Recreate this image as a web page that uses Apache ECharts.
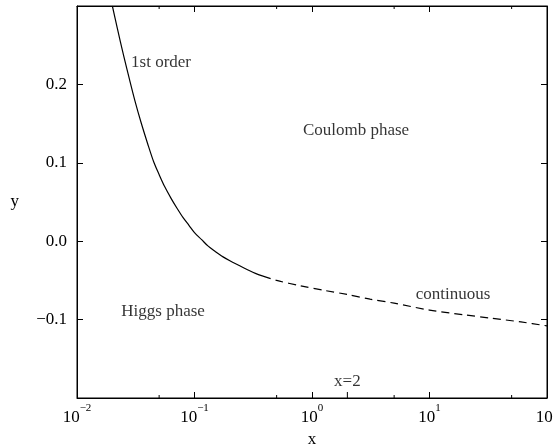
<!DOCTYPE html>
<html>
<head>
<meta charset="utf-8">
<script src="https://cdn.jsdelivr.net/npm/echarts@6/dist/echarts.min.js"></script>
<style>
  html, body { margin: 0; padding: 0; background: #fff; }
  #chart { width: 553px; height: 446px; }
</style>
</head>
<body>
<div id="chart"></div>
<script>
// first order line (solid)
const solidX = [0.020, 0.022, 0.025, 0.028, 0.031, 0.035, 0.040, 0.045, 0.050, 0.056, 0.063, 0.071,
                0.080, 0.090, 0.100, 0.115, 0.130, 0.150, 0.175, 0.200, 0.240, 0.280, 0.330, 0.383];
const solidY = [0.300, 0.272, 0.236, 0.206, 0.180, 0.152, 0.124, 0.101, 0.085, 0.069, 0.055, 0.042,
                0.030, 0.020, 0.011, 0.002, -0.006, -0.013, -0.020, -0.025, -0.031, -0.036, -0.041, -0.0446];
// continuous line (dashed)
const dashX = [0.383, 0.5, 0.8, 1.3, 2, 3.12, 5, 10, 20, 32.7, 60, 100];
const dashY = [-0.0446, -0.050, -0.057, -0.063, -0.068, -0.0739, -0.079, -0.0879, -0.094, -0.098, -0.103, -0.108];

const minorTickX = [0.05, 0.5, 5, 50];
const extraTickX = [2];

// annotations [x, y, text]
const notes = [
  [0.0519, 0.228, '1st order'],
  [2.37, 0.1414, 'Coulomb phase'],
  [0.054, -0.0892, 'Higgs phase'],
  [15.85, -0.0675, 'continuous'],
  [2, -0.179, 'x=2']
];

const FONT = 'Liberation Serif';
const FS = 17;
const Y_MIN = -0.2, Y_MAX = 0.3;

function zip(a, b) { return a.map((v, i) => [v, b[i]]); }

const chart = echarts.init(document.getElementById('chart'), null, { renderer: 'canvas' });

const baseX = {
  type: 'log', logBase: 10, min: 0.01, max: 100,
  axisLine: { onZero: false, lineStyle: { color: '#000', width: 1 } },
  axisTick: { inside: true, length: 6, lineStyle: { color: '#000' } },
  splitLine: { show: false },
  minorTick: { show: false }
};
const baseY = {
  type: 'value', min: Y_MIN, max: Y_MAX, interval: 0.1,
  axisLine: { show: true, onZero: false, lineStyle: { color: '#000', width: 1 } },
  axisTick: { show: true, inside: true, length: 6, lineStyle: { color: '#000' } },
  splitLine: { show: false }
};

chart.setOption({
  backgroundColor: '#fff',
  animation: false,
  grid: {
    left: 77, right: 6, top: 6, bottom: 48, containLabel: false, outerBoundsMode: 'none',
    show: true, borderColor: '#000', borderWidth: 1, backgroundColor: 'transparent'
  },
  xAxis: [
    Object.assign({}, baseX, {
      position: 'bottom',
      name: 'x', nameLocation: 'middle', nameGap: 29,
      nameTextStyle: { fontFamily: FONT, fontSize: FS, color: '#000' },
      axisLabel: {
        margin: 5,
        formatter: function (v) {
          const e = Math.round(Math.log10(v));
          return '{b|10}{s|' + (e < 0 ? '\u2212' + (-e) : e) + '}';
        },
        rich: {
          b: { fontFamily: FONT, fontSize: FS, color: '#000', padding: [6, 0, 0, 0] },
          s: { fontFamily: FONT, fontSize: 11, color: '#000', verticalAlign: 'top' }
        }
      }
    }),
    Object.assign({}, baseX, { position: 'top', axisLabel: { show: false } })
  ],
  yAxis: [
    Object.assign({}, baseY, {
      position: 'left',
      name: 'y', nameLocation: 'middle', nameRotate: 0, nameGap: 58,
      nameTextStyle: { fontFamily: FONT, fontSize: FS, color: '#000' },
      axisLabel: {
        margin: 10, fontFamily: FONT, fontSize: FS, color: '#000',
        formatter: function (v) {
          if (v < -0.15 || v > 0.25) return '';
          return (v < -1e-9 ? '\u2212' : '') + Math.abs(v).toFixed(1);
        }
      }
    }),
    Object.assign({}, baseY, { position: 'right', axisLabel: { show: false } })
  ],
  series: [
    {
      type: 'line', data: zip(solidX, solidY), smooth: 0.3, showSymbol: false,
      lineStyle: { color: '#000', width: 1.2 }
    },
    {
      type: 'line', data: zip(dashX, dashY), smooth: 0.3, showSymbol: false,
      lineStyle: { color: '#000', width: 1.2, type: [8, 5] }
    },
    {
      type: 'custom',
      data: minorTickX.map(v => [v, 0]).concat(extraTickX.map(v => [v, 1])),
      renderItem: function (params, api) {
        const x = api.value(0);
        const extra = api.value(1) === 1;
        const b = api.coord([x, Y_MIN]);
        const t = api.coord([x, Y_MAX]);
        const len = extra ? 6 : 3;
        const style = { stroke: '#000', lineWidth: 1 };
        const children = [
          { type: 'line', shape: { x1: b[0], y1: b[1], x2: b[0], y2: b[1] - len }, style: style }
        ];
        if (!extra) {
          children.push({ type: 'line', shape: { x1: t[0], y1: t[1], x2: t[0], y2: t[1] + len }, style: style });
        }
        return { type: 'group', children: children };
      },
      silent: true
    },
    {
      type: 'scatter', symbolSize: 0, silent: true,
      data: notes,
      label: {
        show: true, position: 'inside', fontFamily: FONT, fontSize: FS, color: '#000',
        formatter: p => p.value[2]
      }
    }
  ]
});
</script>
</body>
</html>
